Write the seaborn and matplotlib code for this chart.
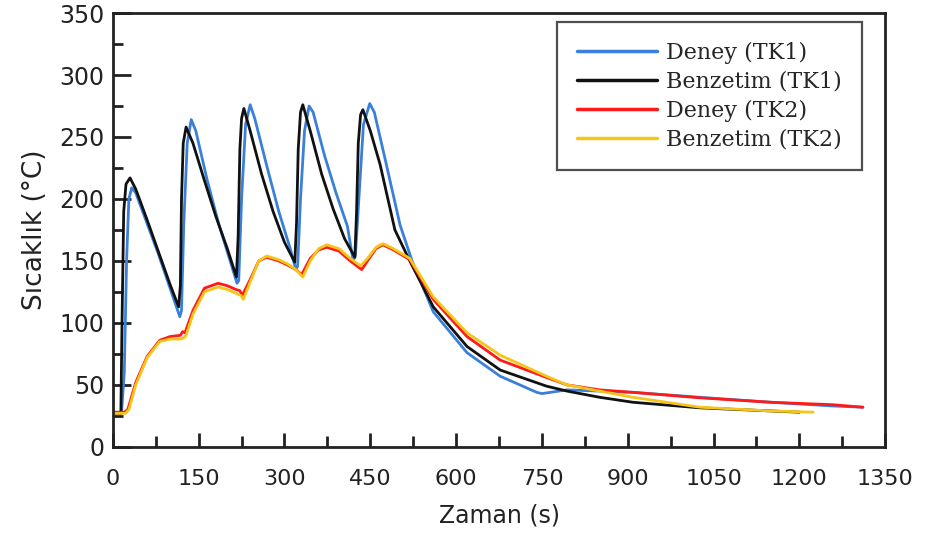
import pandas as pd
import numpy as np
import matplotlib
matplotlib.use("Agg")
import matplotlib.pyplot as plt
from matplotlib.ticker import MultipleLocator
import seaborn as sns

sns.set_style("white")
plt.rcParams['font.family'] = ['DejaVu Sans']

# ---- data ----
time_deney_tk1 = [0, 15, 20, 24, 28, 33, 40, 60, 80, 100, 117, 120, 124, 130, 137, 145, 165, 185, 205, 217,
                  220, 225, 232, 240, 248, 270, 290, 310, 320, 323, 328, 335, 343, 350, 370, 390, 410, 420,
                  424, 430, 438, 449, 457, 476, 502, 523, 560, 619, 677, 741, 750, 794, 851, 909, 1026,
                  1150, 1259, 1311]
temp_deney_tk1 = [27, 27, 60, 150, 200, 209, 205, 180, 155, 128, 105, 110, 180, 245, 264, 255, 215, 180, 150, 132,
                  134, 200, 260, 276, 265, 225, 190, 160, 143, 146, 200, 255, 275, 270, 235, 205, 178, 150,
                  155, 200, 260, 277, 270, 232, 179, 150, 109, 76, 57, 44, 43, 46, 45, 44, 40,
                  36, 33, 32]

time_benzetim_tk1 = [0, 14, 16, 19, 23, 30, 40, 60, 80, 100, 115, 118, 120, 123, 128, 140, 160, 180, 200, 216,
                     219, 222, 225, 229, 240, 260, 280, 300, 318, 321, 324, 328, 332, 345, 365, 385, 405, 423,
                     426, 429, 433, 437, 450, 467, 493, 519, 560, 619, 677, 758, 794, 851, 909, 1026, 1100,
                     1200]
temp_benzetim_tk1 = [27, 27, 100, 190, 212, 217, 208, 183, 157, 131, 113, 130, 200, 245, 258, 245, 215, 186, 160, 137,
                     170, 240, 265, 273, 255, 220, 190, 165, 149, 180, 240, 270, 276, 255, 220, 192, 168, 153,
                     190, 245, 268, 272, 255, 228, 175, 150, 113, 81, 62, 49, 45, 40, 36, 31.5, 30,
                     28]

time_deney_tk2 = [0, 20, 26, 40, 60, 82, 100, 118, 122, 126, 140, 160, 184, 200, 215, 222, 226, 240, 255, 269,
                  290, 304, 320, 330, 345, 360, 374, 395, 415, 435, 445, 460, 472, 490, 519, 560, 619, 677,
                  758, 794, 851, 909, 1026, 1150, 1259, 1311]
temp_deney_tk2 = [28, 28, 30, 52, 73, 86, 89, 90, 93, 92, 110, 128, 132, 130, 127, 126, 122, 135, 150, 153,
                  150, 147, 143, 139, 152, 159, 161, 158, 150, 143, 150, 160, 163, 159, 151, 119, 89, 70,
                  56, 50, 46, 44, 39.6, 36, 34, 32]

time_benzetim_tk2 = [0, 22, 28, 40, 60, 82, 100, 118, 124, 128, 140, 160, 184, 200, 215, 224, 228, 240, 255, 269,
                     290, 304, 320, 332, 345, 360, 374, 395, 415, 433, 445, 460, 472, 490, 519, 560, 619, 677,
                     758, 794, 851, 909, 1026, 1150, 1224]
temp_benzetim_tk2 = [27, 27, 30, 50, 72, 85, 87, 87, 88, 90, 107, 125, 129, 127, 124, 122, 119, 133, 150, 154,
                     151, 148, 143, 137, 150, 160, 163, 160, 152, 146, 152, 161, 164, 160, 152, 121, 92, 74,
                     57, 50, 45, 40, 32, 29, 28]

series_names = ["Deney (TK1)", "Benzetim (TK1)", "Deney (TK2)", "Benzetim (TK2)"]
colors = ["#3a80db", "#111111", "#ff1a1a", "#f5c518"]

frames = []
for name, t, y in zip(series_names,
                      [time_deney_tk1, time_benzetim_tk1, time_deney_tk2, time_benzetim_tk2],
                      [temp_deney_tk1, temp_benzetim_tk1, temp_deney_tk2, temp_benzetim_tk2]):
    frames.append(pd.DataFrame({"Zaman": t, "Sicaklik": y, "Seri": name}))
df = pd.concat(frames, ignore_index=True)

# ---- plot ----
fig = plt.figure(figsize=(9.25, 5.43), dpi=100)
ax = fig.add_axes([0.122, 0.177, 0.835, 0.799])

sns.lineplot(data=df, x="Zaman", y="Sicaklik", hue="Seri", hue_order=series_names,
             palette=dict(zip(series_names, colors)), estimator=None, sort=False,
             linewidth=2.0, ax=ax)

ax.set_xlim(0, 1350)
ax.set_ylim(0, 350)
ax.xaxis.set_major_locator(MultipleLocator(150))
ax.xaxis.set_minor_locator(MultipleLocator(75))
ax.yaxis.set_major_locator(MultipleLocator(50))
ax.yaxis.set_minor_locator(MultipleLocator(25))

for s in ax.spines.values():
    s.set_linewidth(2.0)
    s.set_color("#222222")

ax.tick_params(which="both", bottom=True, left=True, top=False, right=False)
ax.tick_params(axis="y", which="major", direction="in", length=13, width=2, colors="#222222",
               labelsize=17, labelcolor="#222222", pad=6)
ax.tick_params(axis="y", which="minor", direction="in", length=7, width=2, colors="#222222")
ax.tick_params(axis="x", which="major", direction="in", length=10, width=2, colors="#222222",
               labelsize=16, labelcolor="#222222", pad=16)
ax.tick_params(axis="x", which="minor", direction="in", length=8, width=2, colors="#222222")

ax.set_xlabel("Zaman (s)", fontsize=17, color="#222222", labelpad=10)
ax.set_ylabel("Sıcaklık (°C)", fontsize=19, color="#222222", labelpad=8)

leg = ax.legend(loc="upper right", bbox_to_anchor=(0.97, 0.979), borderaxespad=0,
                frameon=True, fancybox=False,
                prop={"family": "DejaVu Serif", "size": 16}, handlelength=3.6,
                labelspacing=0.3, borderpad=0.9, handletextpad=0.4)
leg.get_frame().set_edgecolor("#222222")
leg.get_frame().set_linewidth(1.6)
for line in leg.get_lines():
    line.set_linewidth(2.5)

fig.savefig("out.png", dpi=100)
